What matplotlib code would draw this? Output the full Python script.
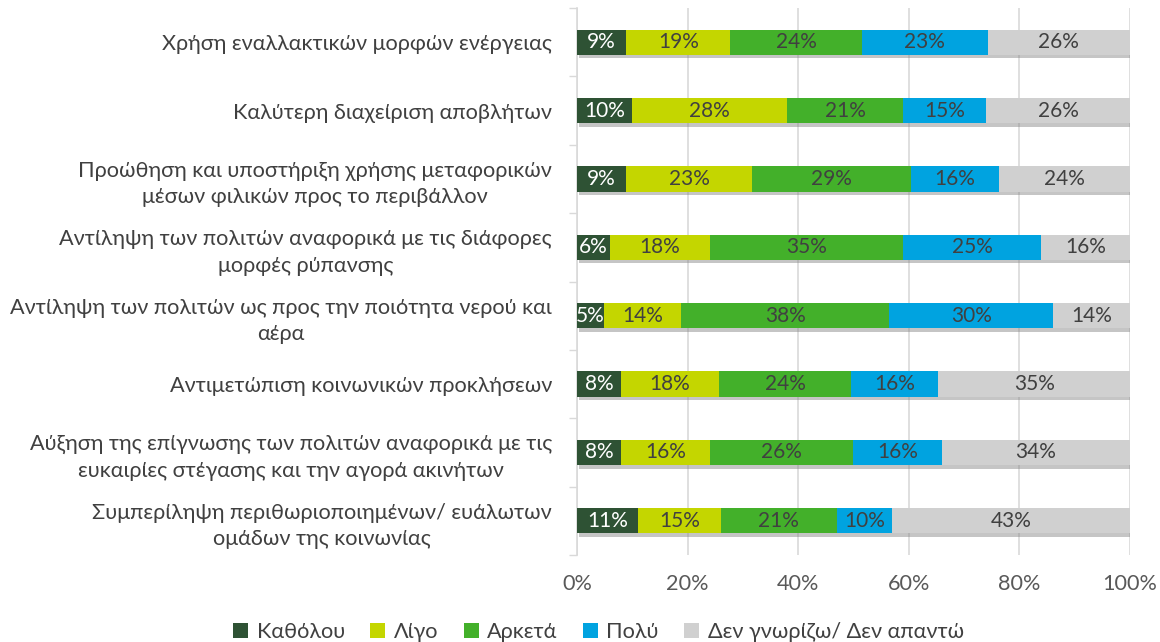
import numpy as np
import matplotlib
matplotlib.use('Agg')
import matplotlib.pyplot as plt
import matplotlib.patheffects as pe

plt.rcParams['font.family'] = ['Lato', 'DejaVu Sans']

categories = [
    'Χρήση εναλλακτικών μορφών ενέργειας',
    'Καλύτερη διαχείριση αποβλήτων',
    'Προώθηση και υποστήριξη χρήσης μεταφορικών\nμέσων φιλικών προς το περιβάλλον',
    'Αντίληψη των πολιτών αναφορικά με τις διάφορες\nμορφές ρύπανσης',
    'Αντίληψη των πολιτών ως προς την ποιότητα νερού και\nαέρα',
    'Αντιμετώπιση κοινωνικών προκλήσεων',
    'Αύξηση της επίγνωσης των πολιτών αναφορικά με τις\nευκαιρίες στέγασης και την αγορά ακινήτων',
    'Συμπερίληψη περιθωριοποιημένων/ ευάλωτων\nομάδων της κοινωνίας',
]
series = ['Καθόλου', 'Λίγο', 'Αρκετά', 'Πολύ', 'Δεν γνωρίζω/ Δεν απαντώ']
katholou = [9, 10, 9, 6, 5, 8, 8, 11]
ligo = [19, 28, 23, 18, 14, 18, 16, 15]
arketa = [24, 21, 29, 35, 38, 24, 26, 21]
poly = [23, 15, 16, 25, 30, 16, 16, 10]
den_xero = [26, 26, 24, 16, 14, 35, 34, 43]

colors = ['#2E5234', '#C4D600', '#43B02A', '#00A3E0', '#D0D0D0']
text_colors = ['white', '#404040', '#404040', '#404040', '#404040']

data = np.array([katholou, ligo, arketa, poly, den_xero], dtype=float)
shares = data / data.sum(axis=0) * 100  # 100% stacked

fig = plt.figure(figsize=(11.6, 6.42), dpi=100)
ax = fig.add_axes([0.4974, 0.1355, 0.4767, 0.852])

y = np.arange(len(categories))
left = np.zeros(len(categories))
shadow = [pe.withSimplePatchShadow(offset=(1.5, -2.5), shadow_rgbFace='#808080', alpha=0.45)]
for i, name in enumerate(series):
    bars = ax.barh(y, shares[i], left=left, height=0.37, color=colors[i],
                   label=name, zorder=3, path_effects=shadow)
    for j, b in enumerate(bars):
        ax.text(left[j] + shares[i][j] / 2, y[j], f'{int(data[i][j])}%',
                ha='center', va='center', fontsize=15, color=text_colors[i], zorder=4)
    left += shares[i]

ax.set_xlim(0, 100)
ax.set_ylim(len(categories) - 0.5, -0.5)
ax.set_xticks(np.arange(0, 101, 20))
ax.set_xticklabels([f'{v}%' for v in range(0, 101, 20)])
ax.set_yticks(y)
ax.set_yticklabels(categories, ha='right', multialignment='center', linespacing=1.4)
ax.set_yticks(np.arange(-0.5, len(categories)), minor=True)
ax.tick_params(axis='y', which='major', length=0, pad=18, labelsize=15.6, labelcolor='#404040')
ax.tick_params(axis='y', which='minor', length=6, color='#D9D9D9', width=1)
ax.tick_params(axis='x', length=0, pad=14, labelsize=15.6, labelcolor='#595959')
ax.grid(axis='x', color='#D9D9D9', linewidth=1.2, zorder=0)
for s in ['top', 'right', 'bottom']:
    ax.spines[s].set_visible(False)
ax.spines['left'].set_color('#D9D9D9')
ax.spines['left'].set_linewidth(1.2)

handles, labels = ax.get_legend_handles_labels()
leg = fig.legend(handles, labels, loc='lower center', bbox_to_anchor=(0.516, -0.03), ncol=5,
                 frameon=False, fontsize=15.6, handlelength=0.7, handleheight=0.7,
                 handletextpad=0.4, columnspacing=1.15, labelcolor='#404040')
# plain legend squares, no shadow
for h in leg.legend_handles:
    h.set_path_effects([])

fig.savefig('out.png', dpi=100)
